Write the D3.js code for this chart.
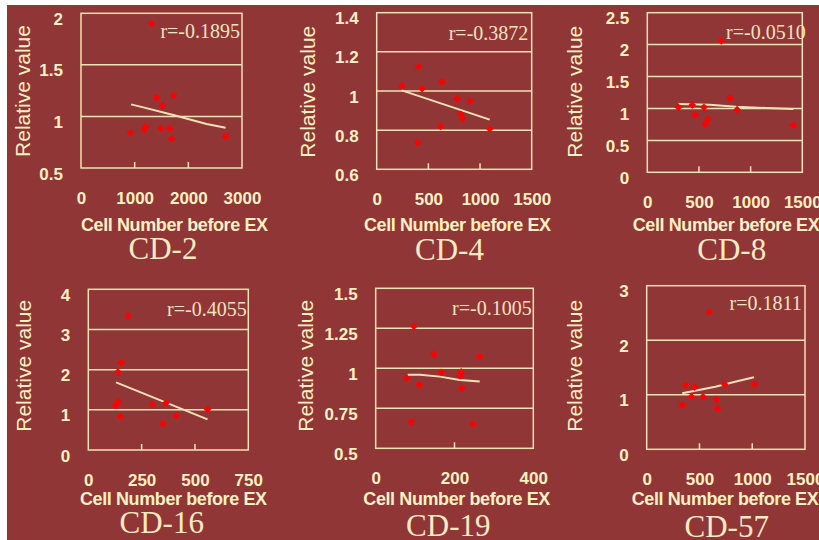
<!DOCTYPE html>
<html>
<head>
<meta charset="utf-8">
<script src="https://cdn.jsdelivr.net/npm/d3@7"></script>
<style>
  html, body { margin: 0; padding: 0; background: #ffffff; }
  svg { display: block; }
</style>
</head>
<body>
<svg id="chart" width="819" height="540"></svg>
<script>
// ---------------- DATA ----------------
const panelNames = ["CD-2", "CD-4", "CD-8", "CD-16", "CD-19", "CD-57"];
const rLabels = ["r=-0.1895", "r=-0.3872", "r=-0.0510", "r=-0.4055", "r=-0.1005", "r=0.1811"];
const xAxisTitle = "Cell Number before EX";
const yAxisTitle = "Relative value";

const xDomains = [[0, 3000], [0, 1500], [0, 1500], [0, 750], [0, 400], [0, 1500]];
const yDomains = [[0.5, 2], [0.6, 1.4], [0, 2.5], [0, 4], [0.5, 1.5], [0, 3]];
const xTickValues = [
  [0, 1000, 2000, 3000],
  [0, 500, 1000, 1500],
  [0, 500, 1000, 1500],
  [0, 250, 500, 750],
  [0, 200, 400],
  [0, 500, 1000, 1500]
];
const yTickValues = [
  [0.5, 1, 1.5, 2],
  [0.6, 0.8, 1, 1.2, 1.4],
  [0, 0.5, 1, 1.5, 2, 2.5],
  [0, 1, 2, 3, 4],
  [0.5, 0.75, 1, 1.25, 1.5],
  [0, 1, 2, 3]
];

// scatter points (cell number, relative value)
const cd2X = [1317, 1410, 1727, 1522, 919, 1180, 1205, 1485, 1653, 1690, 2696];
const cd2Y = [1.90, 1.184, 1.204, 1.107, 0.842, 0.875, 0.90, 0.884, 0.884, 0.784, 0.807];
const cd4X = [245, 403, 439, 632, 777, 903, 813, 832, 619, 1094, 397];
const cd4Y = [1.027, 1.125, 1.012, 1.047, 0.961, 0.949, 0.881, 0.858, 0.819, 0.807, 0.736];
const cd8X = [715, 301, 435, 548, 465, 590, 561, 801, 869, 1413];
const cd8Y = [2.06, 1.017, 1.054, 1.017, 0.899, 0.837, 0.754, 1.162, 0.981, 0.739];
const cd16X = [186, 155, 139, 139, 128, 150, 300, 364, 412, 350, 559];
const cd16Y = [3.34, 2.17, 1.94, 1.195, 1.11, 0.84, 1.137, 1.17, 0.855, 0.656, 1.012];
const cd19X = [97, 148, 264, 166, 217, 214, 79, 111, 219, 90, 247];
const cd19Y = [1.2625, 1.0875, 1.073, 0.975, 0.977, 0.954, 0.9375, 0.898, 0.875, 0.665, 0.652];
const cd57X = [594, 369, 453, 738, 1019, 425, 534, 659, 337, 672];
const cd57Y = [2.52, 1.173, 1.142, 1.191, 1.197, 0.965, 0.965, 0.916, 0.812, 0.751];

// trend lines
const cd2TrendX = [932, 1161, 1720, 2341, 2695];
const cd2TrendY = [1.117, 1.088, 1.013, 0.926, 0.890];
const cd4TrendX = [242, 1094];
const cd4TrendY = [1.003, 0.854];
const cd8TrendX = [301, 603, 859, 1147, 1413];
const cd8TrendY = [1.069, 1.059, 1.028, 1.007, 0.992];
const cd16TrendX = [130, 559];
const cd16TrendY = [1.685, 0.763];
const cd19TrendX = [81, 112, 163, 213, 264];
const cd19TrendY = [0.960, 0.960, 0.948, 0.927, 0.917];
const cd57TrendX = [337, 650, 837, 1016];
const cd57TrendY = [1.026, 1.148, 1.24, 1.32];

const pointsX = [cd2X, cd4X, cd8X, cd16X, cd19X, cd57X];
const pointsY = [cd2Y, cd4Y, cd8Y, cd16Y, cd19Y, cd57Y];
const trendX = [cd2TrendX, cd4TrendX, cd8TrendX, cd16TrendX, cd19TrendX, cd57TrendX];
const trendY = [cd2TrendY, cd4TrendY, cd8TrendY, cd16TrendY, cd19TrendY, cd57TrendY];

// ---------------- LAYOUT ----------------
const layout = [
  { l: 81,    t: 13.3,  r: 242,   b: 168,   yt: 23,  yc: 91,  xtX: 81,    xtY: 230.5, title: 163,   rx: 240,   ry: 38.3 },
  { l: 376.7, t: 12.7,  r: 531.7, b: 169.3, yt: 307.5, yc: 91.7, xtX: 364, xtY: 230.5, title: 449.5, rx: 528.3, ry: 40 },
  { l: 647.3, t: 12.7,  r: 802.3, b: 172.3, yt: 575, yc: 91.7, xtX: 632.7, xtY: 230.5, title: 731.7, rx: 805.7, ry: 39.3 },
  { l: 88.3,  t: 289.3, r: 248.3, b: 450,   yt: 23.7, yc: 365.8, xtX: 80, xtY: 505, title: 161.7, rx: 246.7, ry: 315.7 },
  { l: 375.7, t: 288.3, r: 533.3, b: 448.3, yt: 306, yc: 365.8, xtX: 363.3, xtY: 505, title: 448.3, rx: 531.7, ry: 315 },
  { l: 646.7, t: 285.7, r: 805,   b: 449.3, yt: 575, yc: 365.8, xtX: 631.7, xtY: 505, title: 726.7, rx: 801.7, ry: 310 }
];
const titleBaselines = [258.5, 260, 260, 533, 536, 537];

const BG = "#903636";
const CREAM = "#FBF0C2";
const LINE = "#F0E2B4";
const SANS = "'Liberation Sans', Arial, sans-serif";
const SERIF = "'Liberation Serif', 'Times New Roman', serif";

const svg = d3.select("#chart");
svg.append("rect").attr("x", 0).attr("y", 0).attr("width", 819).attr("height", 540).attr("fill", "#ffffff");
svg.append("rect").attr("x", 7).attr("y", 5).attr("width", 812).attr("height", 535).attr("fill", BG);

const diamond = d3.symbol().type(d3.symbolSquare).size(30);

panelNames.forEach((name, i) => {
  const L = layout[i];
  const x = d3.scaleLinear().domain(xDomains[i]).range([L.l, L.r]);
  const y = d3.scaleLinear().domain(yDomains[i]).range([L.b, L.t]);
  const g = svg.append("g");

  // gridlines
  g.selectAll("line.grid").data(yTickValues[i].filter(v => v !== yDomains[i][0] && v !== yDomains[i][1]))
    .join("line").attr("class", "grid")
    .attr("x1", L.l).attr("x2", L.r)
    .attr("y1", d => y(d)).attr("y2", d => y(d))
    .attr("stroke", LINE).attr("stroke-width", 1.5);

  // inner tick marks at bottom
  g.selectAll("line.xt").data(xTickValues[i].filter(v => v !== xDomains[i][0] && v !== xDomains[i][1]))
    .join("line").attr("class", "xt")
    .attr("x1", d => x(d)).attr("x2", d => x(d))
    .attr("y1", L.b).attr("y2", L.b - 6)
    .attr("stroke", LINE).attr("stroke-width", 1.5);

  // frame
  g.append("rect").attr("x", L.l).attr("y", L.t)
    .attr("width", L.r - L.l).attr("height", L.b - L.t)
    .attr("fill", "none").attr("stroke", LINE).attr("stroke-width", 1.5);

  // y axis labels
  const ya = g.append("g").attr("transform", `translate(${L.l},0)`)
    .call(d3.axisLeft(y).tickValues(yTickValues[i]).tickSize(0).tickPadding(18).tickFormat(d => String(d)));
  ya.select(".domain").remove();
  ya.selectAll("text").attr("dy", null).attr("y", 11)
    .attr("fill", CREAM).style("font-family", SANS).style("font-weight", "bold").style("font-size", "17px");

  // x axis labels
  const xa = g.append("g").attr("transform", `translate(0,${L.b})`)
    .call(d3.axisBottom(x).tickValues(xTickValues[i]).tickSize(0).tickFormat(d => String(d)));
  xa.select(".domain").remove();
  xa.selectAll("text").attr("dy", null).attr("y", 36)
    .attr("fill", CREAM).style("font-family", SANS).style("font-weight", "bold").style("font-size", "17px");

  // axis titles
  g.append("text").attr("x", L.xtX).attr("y", L.xtY)
    .attr("fill", CREAM).style("font-family", SANS).style("font-weight", "bold")
    .style("font-size", "18px").style("letter-spacing", "-0.4px")
    .text(xAxisTitle);
  g.append("text")
    .attr("transform", `translate(${L.yt + 7},${L.yc}) rotate(-90)`)
    .attr("text-anchor", "middle")
    .attr("fill", CREAM).style("font-family", SANS).style("font-size", "21px")
    .text(yAxisTitle);

  // trend line
  const tpts = trendX[i].map((v, k) => [v, trendY[i][k]]);
  g.append("path").datum(tpts)
    .attr("d", d3.line().x(d => x(d[0])).y(d => y(d[1])))
    .attr("fill", "none").attr("stroke", LINE).attr("stroke-width", 2);

  // points
  const pts = pointsX[i].map((v, k) => [v, pointsY[i][k]]);
  g.selectAll("path.pt").data(pts).join("path").attr("class", "pt")
    .attr("d", diamond)
    .attr("transform", d => `translate(${x(d[0])},${y(d[1])}) rotate(45)`)
    .attr("fill", "#FF0000");

  // r label
  g.append("text").attr("x", L.rx).attr("y", L.ry).attr("text-anchor", "end")
    .attr("fill", "#EFE2C0").style("font-family", SERIF).style("font-size", "20px")
    .text(rLabels[i]);

  // chart title
  svg.append("text").attr("x", L.title).attr("y", titleBaselines[i]).attr("text-anchor", "middle")
    .attr("fill", "#F6EAC4").style("font-family", SERIF).style("font-size", "31px")
    .text(name);
});
</script>
</body>
</html>
